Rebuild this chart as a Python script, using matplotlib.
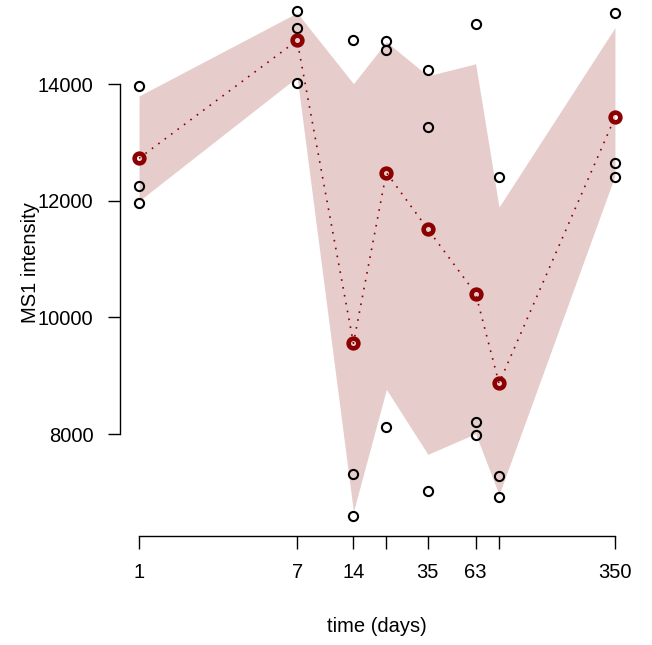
import numpy as np
import matplotlib
matplotlib.use("Agg")
import matplotlib.pyplot as plt

plt.rcParams['font.family'] = ['Liberation Sans', 'DejaVu Sans']

# time points (days) and the three replicate intensities at each
days = [1, 7, 14, 21, 35, 63, 84, 350]
day_labels = ["1", "7", "14", "", "35", "63", "", "350"]
rep_a = [13970, 15250, 14750, 14740, 14240, 15030, 12405, 15225]
rep_b = [12245, 14970, 7325, 14590, 13265, 8215, 7285, 12655]
rep_c = [11970, 14025, 6600, 8120, 7030, 7985, 6925, 12405]
y_ticks = [8000, 10000, 12000, 14000]

reps = np.array([rep_a, rep_b, rep_c])
x = np.array(days, dtype=float)
mean = reps.mean(axis=0)
lo = np.quantile(reps, 0.05, axis=0)
hi = np.quantile(reps, 0.95, axis=0)

W, H = 652, 645
fig = plt.figure(figsize=(W / 100, H / 100), dpi=100)
# plot region in pixels: left 120, right 634, top -9, bottom 536
ax = fig.add_axes([120 / W, (H - 536) / H, 514 / W, 545 / H])

dark = "#8B0000"
ax.fill_between(x, lo, hi, color=dark, alpha=0.2, linewidth=0, zorder=1)
ax.plot(x, mean, color=dark, lw=1.2, linestyle=(0, (1, 3.8)), zorder=2)
for r in reps:
    ax.plot(x, r, linestyle="none", marker="o", ms=6.6, mfc="none",
            mec="black", mew=1.5, zorder=3)
ax.plot(x, mean, linestyle="none", marker="o", ms=7.0, mfc="none",
        mec=dark, mew=3.3, zorder=4)

# R style 4% padding on the ranges
lx = np.log(x)
pad = 0.04 * (lx.max() - lx.min())
ax.set_xscale("log")
ax.set_xlim(np.exp(lx.min() - pad), np.exp(lx.max() + pad))
ypad = 0.04 * (reps.max() - reps.min())
ax.set_ylim(reps.min() - ypad, reps.max() + ypad)

ax.set_xticks(days)
ax.set_xticklabels(day_labels)
ax.xaxis.set_minor_locator(matplotlib.ticker.NullLocator())
ax.set_yticks(y_ticks)
ax.set_yticklabels([str(v) for v in y_ticks])

for s in ["top", "right"]:
    ax.spines[s].set_visible(False)
ax.spines["left"].set_bounds(y_ticks[0], y_ticks[-1])
ax.spines["bottom"].set_bounds(days[0], days[-1])
ax.spines["left"].set_linewidth(1.0)
ax.spines["bottom"].set_linewidth(1.0)
ax.tick_params(axis="both", length=9, width=1.0, labelsize=14.5, color="black")
ax.tick_params(axis="y", pad=10)
ax.tick_params(axis="x", pad=10.5)

ax.set_xlabel("time (days)", fontsize=14.5, va="center")
ax.xaxis.set_label_coords(0.5, (536 - 627) / 545)
ax.set_ylabel("MS1 intensity", fontsize=14.5, va="center")
ax.yaxis.set_label_coords((31 - 120) / 514, (536 - 263) / 545)

fig.savefig("out.png", dpi=100)
